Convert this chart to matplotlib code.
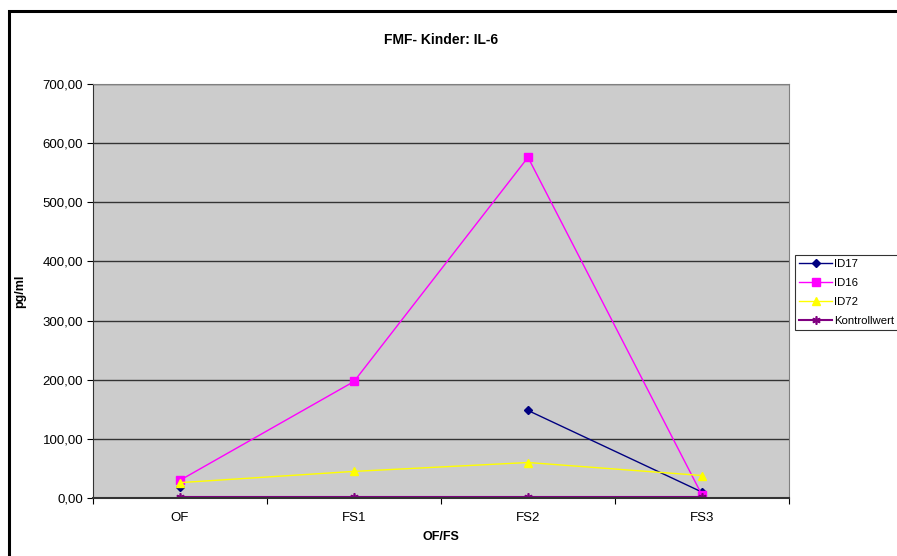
import numpy as np
import matplotlib
matplotlib.use("Agg")
import matplotlib.pyplot as plt
from matplotlib.patches import Rectangle
from matplotlib.ticker import FuncFormatter

plt.rcParams['font.family'] = ['Liberation Sans', 'DejaVu Sans']

# --- Data ---
categories = ['OF', 'FS1', 'FS2', 'FS3']
id17 = [18, np.nan, 148, 10]
id16 = [30, 197, 576, 5]
id72 = [26, 45, 60, 38]
kontrollwert = [2, 2, 2, 2]
y_ticks = [0, 100, 200, 300, 400, 500, 600, 700]

fig = plt.figure(figsize=(8.97, 5.56), dpi=100)
ax = fig.add_axes([93 / 897, 1 - 498 / 556, (789 - 93) / 897, (498 - 84) / 556])
ax.set_facecolor('#cccccc')

# outer chart frame (right and bottom edges fall outside the image)
fig.patches.append(Rectangle((9 / 897, -0.05), 1.0, 1 - 11 / 556 + 0.05,
                             transform=fig.transFigure, fill=False,
                             edgecolor='black', linewidth=2.2))

x = np.arange(len(categories)) + 0.5
ax.plot(x, id17, color='#000080', marker='D', markersize=4, linewidth=1, label='ID17')
ax.plot(x, id16, color='#ff00ff', marker='s', markersize=6, linewidth=1, label='ID16')
ax.plot(x, id72, color='#ffff00', marker='^', markersize=6, linewidth=1, label='ID72')
ax.plot(x, kontrollwert, color='#800080', marker=(6, 2, 0), markersize=6,
        markeredgewidth=1.2, linewidth=1.5, label='Kontrollwert')

ax.set_xlim(0, len(categories))
ax.set_ylim(0, 700)
ax.set_yticks(y_ticks)
ax.yaxis.set_major_formatter(FuncFormatter(lambda v, p: f'{v:.2f}'.replace('.', ',')))
ax.set_xticks(np.arange(len(categories) + 1))
ax.set_xticklabels([])
ax.set_xticks(x, minor=True)
ax.set_xticklabels(categories, minor=True)
ax.tick_params(axis='x', which='minor', length=0, pad=10, labelsize=9.5)
ax.tick_params(axis='x', which='major', length=4, direction='out')
ax.tick_params(axis='y', length=4, labelsize=9.5, pad=3)
ax.grid(axis='y', color='#333333', linewidth=1)
ax.set_axisbelow(True)

for side in ['top', 'right']:
    ax.spines[side].set_color('#808080')
ax.spines['left'].set_color('#333333')
ax.spines['bottom'].set_color('#333333')
ax.spines['bottom'].set_linewidth(1.5)

ax.set_xlabel('OF/FS', fontsize=9, fontweight='bold', labelpad=5)
ax.set_ylabel('pg/ml', fontsize=9, fontweight='bold', labelpad=12)
fig.text(0.5 * (93 + 789) / 897, 1 - 40 / 556, 'FMF- Kinder: IL-6',
         ha='center', va='center', fontsize=10, fontweight='bold')

leg = fig.legend(loc='upper left', bbox_to_anchor=(795 / 897, 1 - 255 / 556),
                 fontsize=8.2, frameon=True, fancybox=False, edgecolor='black',
                 borderpad=0.35, handlelength=2.9, labelspacing=0.8,
                 handletextpad=0.15, borderaxespad=0)
leg.get_frame().set_linewidth(0.8)

fig.savefig('out.png', dpi=100)
